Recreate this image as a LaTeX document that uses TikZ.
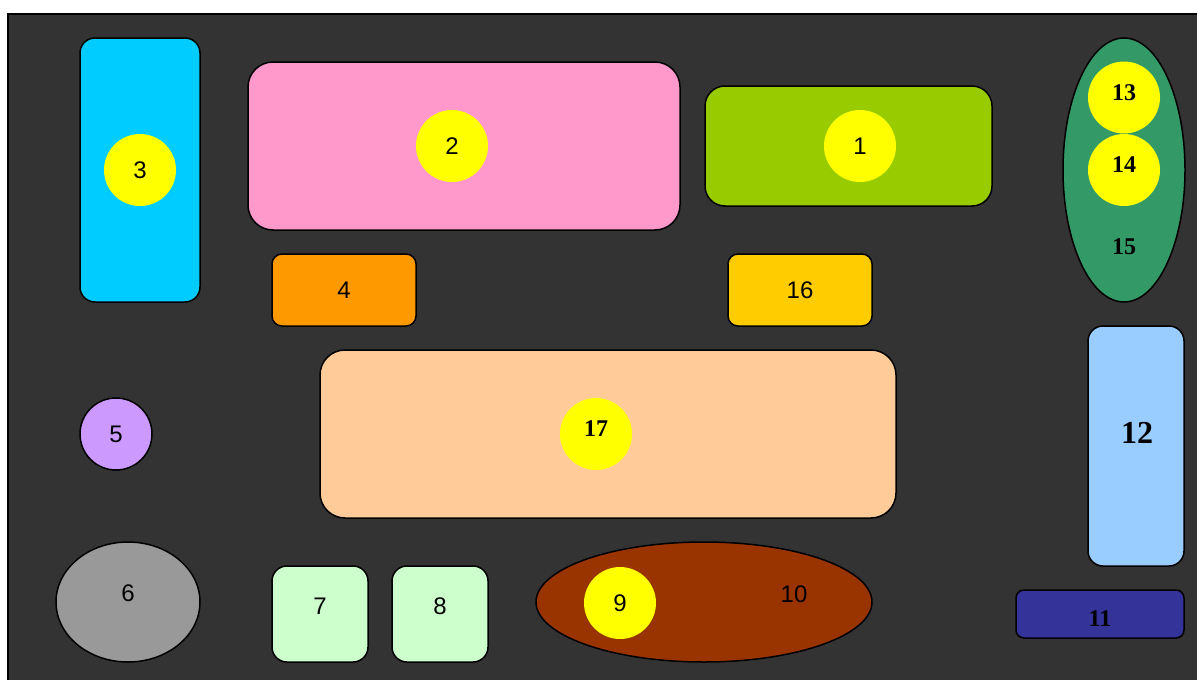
\documentclass[tikz,border=0pt]{standalone}
\usepackage{fontspec}
\setmainfont{Liberation Sans}
\newfontfamily\serifnum{Liberation Serif}
\usetikzlibrary{shapes.geometric, positioning, calc}

\definecolor{bgdark}{HTML}{333333}
\definecolor{skyblue}{HTML}{00CCFF}
\definecolor{pinkish}{HTML}{FF99CC}
\definecolor{limegreen}{HTML}{99CC00}
\definecolor{seagreen}{HTML}{339966}
\definecolor{orangebox}{HTML}{FF9900}
\definecolor{goldbox}{HTML}{FFCC00}
\definecolor{peach}{HTML}{FFCC99}
\definecolor{lavender}{HTML}{CC99FF}
\definecolor{paleblue}{HTML}{99CCFF}
\definecolor{greybox}{HTML}{999999}
\definecolor{mint}{HTML}{CCFFCC}
\definecolor{rust}{HTML}{993300}
\definecolor{navybox}{HTML}{333399}
\definecolor{dotyellow}{HTML}{FFFF00}

\begin{document}
\begin{tikzpicture}[
    x=1pt, y=-1pt,
    panel/.style={
        rectangle,
        draw=black,
        line width=1.5pt,
        inner sep=0pt,
        rounded corners=15pt,
        font=\fontsize{24}{28}\selectfont
    },
    oval/.style={
        ellipse,
        draw=black,
        line width=1.5pt,
        inner sep=0pt
    },
    dot/.style={
        circle,
        fill=dotyellow,
        minimum size=72pt,
        inner sep=0pt,
        font=\fontsize{24}{28}\selectfont
    },
    num/.style={
        font=\fontsize{24}{28}\selectfont
    },
    bnum/.style={
        font=\fontsize{24}{28}\selectfont\serifnum\bfseries
    }
]
\useasboundingbox (0,0) rectangle (1197,680);

% dark canvas
\draw[fill=bgdark, draw=black, line width=2pt] (8.3,14.3) rectangle (1210,690);

% top row
\node[panel, fill=skyblue, minimum width=120pt, minimum height=264pt] (b3) at (140,170) {};
\node[dot] (d3) at (140,170) {3};

\node[panel, fill=pinkish, rounded corners=25pt, minimum width=432pt, minimum height=168pt] (b2) at (464,146) {};
\node[dot] (d2) at (452,146) {2};

\node[panel, fill=limegreen, rounded corners=20pt, minimum width=287pt, minimum height=120pt] (b1) at (848.5,146) {};
\node[dot] (d1) at (860,146) {1};

% green oval with 13, 14, 15
\node[oval, fill=seagreen, minimum width=122pt, minimum height=264pt] (b15) at (1124,170) {};
\node[dot] (d13) at (1124,97.5) {};
\node[bnum] (t13) at ($(d13)+(0,-4.5)$) {13};
\node[dot] (d14) at (1124,170) {};
\node[bnum] (t14) at ($(d14)+(0,-5)$) {14};
\node[bnum] (t15) at (1124,247) {15};

% middle row
\node[panel, fill=orangebox, rounded corners=10pt, minimum width=144pt, minimum height=72pt] (b4) at (344,290) {4};
\node[panel, fill=goldbox, rounded corners=10pt, minimum width=144pt, minimum height=72pt] (b16) at (800,290) {16};

\node[panel, fill=peach, rounded corners=25pt, minimum width=576pt, minimum height=168pt] (b17) at (608,434) {};
\node[dot] (d17) at (596,434) {};
\node[bnum] (t17) at ($(d17)+(0,-5)$) {17};

\node[circle, draw=black, line width=1.5pt, fill=lavender, minimum size=72pt, inner sep=0pt, num] (b5) at (116,434) {5};

\node[panel, fill=paleblue, minimum width=96pt, minimum height=240pt] (b12) at (1136,446) {};
\node[font=\fontsize{32}{36}\selectfont\serifnum\bfseries] (t12) at (1137,433) {12};

% bottom row
\node[oval, fill=greybox, minimum width=144pt, minimum height=120pt] (b6) at (128,602) {};
\node[num] (t6) at ($(b6)+(0,-9)$) {6};

\node[panel, fill=mint, minimum width=96pt, minimum height=96pt] (b7) at (320,614) {};
\node[num] (t7) at ($(b7)+(0,-8)$) {7};
\node[panel, fill=mint, minimum width=96pt, minimum height=96pt] (b8) at (440,614) {};
\node[num] (t8) at ($(b8)+(0,-8)$) {8};

\node[oval, fill=rust, minimum width=336pt, minimum height=120pt] (b10) at (704,602) {};
\node[num] (t10) at (794,594) {10};
\node[dot] (d9) at (620,603) {9};

\node[panel, fill=navybox, rounded corners=8pt, minimum width=168pt, minimum height=48pt] (b11) at (1100,614) {};
\node[bnum] (t11) at (1100,619) {11};

\end{tikzpicture}
\end{document}
